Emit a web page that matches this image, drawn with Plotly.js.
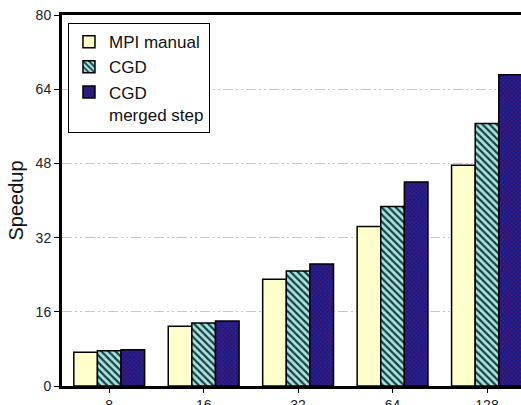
<!DOCTYPE html>
<html>
<head>
<meta charset="utf-8">
<script src="https://cdn.plot.ly/plotly-3.0.1.min.js"></script>
<style>
  html, body { margin: 0; padding: 0; background: #fff; }
  #chart { width: 521px; height: 405px; }
</style>
</head>
<body>
<div id="chart"></div>
<script>
// Processor counts on the x axis
const processors = ['8', '16', '32', '64', '128'];

// Speedup of each variant
const mpiManual = [7.3, 12.9, 23.0, 34.4, 47.6];
const cgd = [7.6, 13.6, 24.8, 38.7, 56.6];
const cgdMerged = [7.8, 14.0, 26.3, 44.0, 67.1];

const seriesNames = ['MPI manual', 'CGD', 'CGD<br>merged step'];
const yTicks = [0, 16, 32, 48, 64, 80];

const outline = { color: '#000', width: 1.5 };

const traces = [
  {
    type: 'bar', name: seriesNames[0], x: processors, y: mpiManual,
    marker: { color: '#ffffcc', line: outline }
  },
  {
    type: 'bar', name: seriesNames[1], x: processors, y: cgd,
    marker: {
      color: '#a6e6e6', line: outline,
      pattern: { shape: '\\', bgcolor: '#a6e6e6', fgcolor: '#1e3c3c', size: 5, solidity: 0.45 }
    }
  },
  {
    type: 'bar', name: seriesNames[2], x: processors, y: cgdMerged,
    marker: {
      color: '#1c1a86', line: outline,
      pattern: { shape: 'x', bgcolor: '#1c1a86', fgcolor: '#5a2070', size: 3, solidity: 0.3 }
    }
  }
];

const layout = {
  width: 521, height: 405,
  margin: { l: 62, r: 0, t: 15, b: 19 },
  paper_bgcolor: '#fff', plot_bgcolor: '#fff',
  font: { family: 'Liberation Sans, Arial, sans-serif', color: '#222' },
  barmode: 'group', bargap: 0.25, bargroupgap: 0,
  showlegend: true,
  legend: {
    x: 0.013, y: 0.978, xanchor: 'left', yanchor: 'top',
    bgcolor: '#fff', bordercolor: '#000', borderwidth: 1,
    font: { size: 17, color: '#111' }, valign: 'top', itemwidth: 30
  },
  xaxis: {
    type: 'category', range: [-0.5, 4.36],
    showline: true, linecolor: '#000', linewidth: 3, mirror: true,
    ticks: 'outside', ticklen: 4, tickcolor: '#000', tickwidth: 1,
    tickfont: { size: 14 }, showgrid: false, automargin: false, fixedrange: true
  },
  yaxis: {
    range: [0, 80], tickvals: yTicks,
    showline: true, linecolor: '#000', linewidth: 3,
    ticks: 'outside', ticklen: 5, tickcolor: '#000', tickwidth: 1,
    tickfont: { size: 14 },
    showgrid: true, gridcolor: '#c8c8c8', gridwidth: 1,
    griddash: '10px,3px,2px,3px,2px,3px',
    zeroline: false, automargin: false, fixedrange: true,
    title: { text: 'Speedup', font: { size: 20, color: '#111' }, standoff: 7 }
  }
};

Plotly.newPlot('chart', traces, layout, { displayModeBar: false, staticPlot: true });
</script>
</body>
</html>
